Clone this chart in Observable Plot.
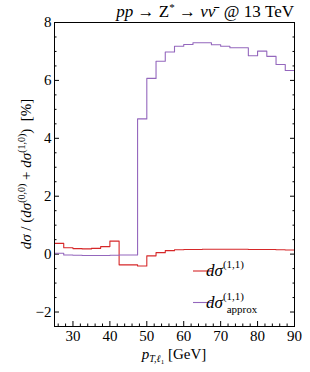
<!DOCTYPE html>
<html><head><meta charset="utf-8">
<script src="https://cdn.jsdelivr.net/npm/d3@7"></script>
<script src="https://cdn.jsdelivr.net/npm/@observablehq/plot@0.6"></script>
<style>body{margin:0;background:#fff;} #chart svg, #chart svg text{font-family:"Liberation Serif",serif !important;}</style>
</head><body><div id="chart"></div>
<script>
// bin starts (GeV), bin width 2.5 GeV
const binStarts = [25,27.5,30,32.5,35,37.5,40,42.5,45,47.5,50,52.5,55,57.5,60,62.5,65,67.5,70,72.5,75,77.5,80,82.5,85,87.5];
const binEnd = 90;
const sigma11 = [0.37,0.22,0.19,0.18,0.20,0.26,0.45,-0.37,-0.37,-0.41,-0.06,0.05,0.12,0.15,0.16,0.16,0.17,0.17,0.17,0.17,0.17,0.16,0.16,0.16,0.15,0.14];
const sigma11approx = [0.03,-0.03,-0.04,-0.05,-0.05,-0.05,-0.04,-0.03,-0.03,4.67,6.07,6.66,6.98,7.18,7.24,7.30,7.30,7.23,7.18,7.13,7.13,6.85,7.01,6.83,6.55,6.34];
const xTicks = [30,40,50,60,70,80,90];
const xMinorTicks = [26,28,32,34,36,38,42,44,46,48,52,54,56,58,62,64,66,68,72,74,76,78,82,84,86,88];
const yTicks = [-2,0,2,4,6,8];
const yMinorTicks = [-2.5,-1.5,-1,-0.5,0.5,1,1.5,2.5,3,3.5,4.5,5,5.5,6.5,7,7.5];
const colors = ["#d62728", "#9467bd"];

function stepPoints(vals){
  const pts = binStarts.map((x,i)=>({x, y: vals[i]}));
  pts.push({x: binEnd, y: vals[vals.length-1]});
  return pts;
}
const redPts = stepPoints(sigma11);
const violetPts = stepPoints(sigma11approx);

const FONT = '"Liberation Serif", serif';
const W=310, H=372, mL=54, mR=16, mT=22, mB=46;
const blank = () => "";
const plot = Plot.plot({
  width: W, height: H, marginLeft: mL, marginRight: mR, marginTop: mT, marginBottom: mB,
  style: {fontFamily: FONT, fontSize: "15px", background: "#fff", color: "#000"},
  x: {domain: [25, 90], label: null},
  y: {domain: [-2.5, 8], label: null},
  marks: [
    Plot.axisX(xMinorTicks, {anchor: "bottom", tickSize: -2.5, tickFormat: blank, label: null}),
    Plot.axisX(xTicks, {anchor: "bottom", tickSize: -5, tickPadding: 9, label: null, fill: "#000", fontSize: 15}),
    Plot.axisY(yMinorTicks, {anchor: "left", tickSize: -2.5, tickFormat: blank, label: null}),
    Plot.axisY(yTicks, {anchor: "left", tickSize: -5, tickPadding: 8, label: null, fill: "#000", fontSize: 15}),
    Plot.axisY(yMinorTicks, {anchor: "right", tickSize: -2.5, tickFormat: blank, label: null}),
    Plot.axisY(yTicks, {anchor: "right", tickSize: -5, tickFormat: blank, label: null}),
    Plot.lineY(redPts, {x: "x", y: "y", curve: "step-after", stroke: colors[0], strokeWidth: 1.1}),
    Plot.lineY(violetPts, {x: "x", y: "y", curve: "step-after", stroke: colors[1], strokeWidth: 1.1}),
    Plot.frame({stroke: "#000", strokeWidth: 1})
  ]
});
document.getElementById("chart").appendChild(plot);

const svg = d3.select(plot);
// title
const t = svg.append("text").attr("x", W - mR).attr("y", 17).attr("text-anchor", "end")
  .style("font-size", "17px").attr("fill", "#000");
t.append("tspan").attr("font-style", "italic").text("pp");
t.append("tspan").text(" → Z");
t.append("tspan").attr("dy", -6).style("font-size", "11px").text("*");
t.append("tspan").attr("dy", 6).text(" → ");
t.append("tspan").attr("font-style", "italic").text("νν\u0304");
t.append("tspan").text("\u00a0 @ 13 TeV");

// x label
const xl = svg.append("text").attr("x", (mL + W - mR) / 2).attr("y", 359).attr("text-anchor", "middle")
  .style("font-size", "15px").attr("fill", "#000");
xl.append("tspan").attr("font-style", "italic").text("p");
xl.append("tspan").attr("dy", 3).style("font-size", "10px").attr("font-style", "italic").text("T,ℓ");
xl.append("tspan").attr("dy", 2).style("font-size", "7px").text("1");
xl.append("tspan").attr("dy", -5).text(" [GeV]");

// y label
const yl = svg.append("text").attr("transform", `translate(31,${(mT + H - mB) / 2}) rotate(-90)`)
  .attr("text-anchor", "middle").style("font-size", "15px").attr("fill", "#000");
yl.append("tspan").attr("font-style", "italic").text("dσ");
yl.append("tspan").text(" / (");
yl.append("tspan").attr("font-style", "italic").text("dσ");
yl.append("tspan").attr("dy", -6).style("font-size", "10px").text("(0,0)");
yl.append("tspan").attr("dy", 6).text(" + ");
yl.append("tspan").attr("font-style", "italic").text("dσ");
yl.append("tspan").attr("dy", -6).style("font-size", "10px").text("(1,0)");
yl.append("tspan").attr("dy", 6).text(")  [%]");

// legend
const leg = svg.append("g");
[[271, 0], [302.5, 1]].forEach(([yy, i]) => {
  leg.append("line").attr("x1", 193).attr("x2", 212).attr("y1", yy).attr("y2", yy)
    .attr("stroke", colors[i]).attr("stroke-width", 1.1);
  const tx = leg.append("text").attr("x", 225).attr("y", yy + 5).style("font-size", "17px").attr("fill", "#000");
  tx.append("tspan").attr("font-style", "italic").text("dσ");
  tx.append("tspan").attr("dy", -8).style("font-size", "11px").text("(1,1)");
  if (i === 1) {
    tx.append("tspan").attr("x", 242).attr("dy", 13).style("font-size", "11px").text("approx");
  }
});
svg.selectAll("text").style("font-family", FONT);
</script>
</body></html>
